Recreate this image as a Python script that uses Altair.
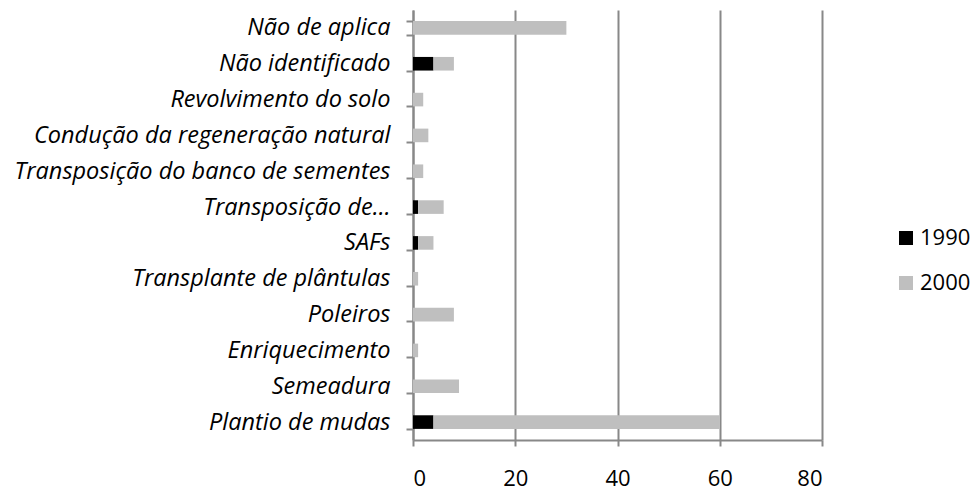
import altair as alt
import pandas as pd

categories = [
    "Não de aplica",
    "Não identificado",
    "Revolvimento do solo",
    "Condução da regeneração natural",
    "Transposição do banco de sementes",
    "Transposição de…",
    "SAFs",
    "Transplante de plântulas",
    "Poleiros",
    "Enriquecimento",
    "Semeadura",
    "Plantio de mudas",
]
v1990 = [0, 4, 0, 0, 0, 1, 1, 0, 0, 0, 0, 4]
v2000 = [30, 4, 2, 3, 2, 5, 3, 1, 8, 1, 9, 56]
series = ["1990", "2000"]
colors = ["#000000", "#bfbfbf"]
x_ticks = [0, 20, 40, 60, 80]

rows = []
for c, a, b in zip(categories, v1990, v2000):
    rows.append({"cat": c, "serie": "1990", "val": a, "ord": 0})
    rows.append({"cat": c, "serie": "2000", "val": b, "ord": 1})
df = pd.DataFrame(rows)

FONT = "Open Sans"
GRID = "#888888"

chart = alt.Chart(df).mark_bar().encode(
    y=alt.Y("cat:N", sort=categories,
            scale=alt.Scale(paddingInner=0.62, paddingOuter=0.31),
            axis=alt.Axis(title=None, labelFont=FONT, labelFontStyle="italic",
                          labelFontSize=23.5, labelColor="#000000", labelPadding=16,
                          tickBand="extent", tickColor=GRID, tickSize=7, tickWidth=2,
                          domainColor=GRID, domainWidth=2, grid=False, labelLimit=420)),
    x=alt.X("val:Q", stack="zero",
            scale=alt.Scale(domain=[0, 80], nice=False),
            axis=alt.Axis(title=None, values=x_ticks, labelFont=FONT, labelFontSize=22,
                          labelColor="#000000", labelPadding=22, tickColor=GRID,
                          tickSize=6, tickWidth=2, domainColor=GRID, domainWidth=2,
                          grid=True, gridColor=GRID, gridWidth=2)),
    color=alt.Color("serie:N", scale=alt.Scale(domain=series, range=colors),
                    legend=alt.Legend(title=None, orient="none", legendX=482, legendY=217,
                                      symbolType="square", symbolSize=196,
                                      symbolStrokeWidth=0, labelFont=FONT,
                                      labelFontSize=22, labelColor="#000000",
                                      rowPadding=23, labelOffset=3, padding=0)),
    order=alt.Order("ord:Q"),
).properties(
    width=409, height=430,
    autosize=alt.AutoSizeParams(type="none"),
    padding={"left": 405, "top": 2, "right": 149, "bottom": 50},
).configure_view(stroke=None)

chart.save("out.html", embed_options={"renderer": "svg", "actions": False})
